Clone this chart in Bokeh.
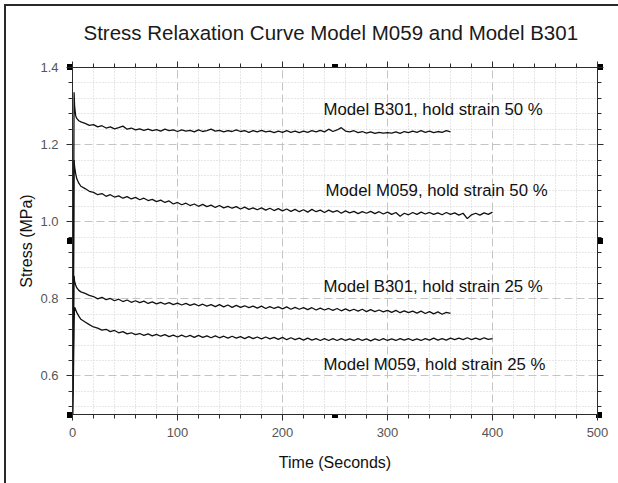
from bokeh.plotting import figure
from bokeh.models import (LinearAxis, FixedTicker, PrintfTickFormatter, Label, Range1d)
from bokeh.embed import file_html
from bokeh.resources import INLINE

# ---------------- data ----------------
t_early = [0, 1, 1.5, 2, 3, 4, 6, 8]
t_b301 = t_early + list(range(12, 364, 4))
t_m059 = t_early + list(range(12, 404, 4))

b301_50 = [0.50, 0.92, 1.336, 1.300, 1.275, 1.268, 1.262, 1.259,
           1.255, 1.250, 1.252, 1.246, 1.249, 1.243, 1.246, 1.241, 1.244, 1.248,
           1.240, 1.243, 1.238, 1.241, 1.237, 1.240, 1.236, 1.239, 1.235, 1.240,
           1.236, 1.238, 1.234, 1.238, 1.235, 1.237, 1.233, 1.238, 1.234, 1.236,
           1.240, 1.235, 1.237, 1.233, 1.236, 1.234, 1.238, 1.234, 1.236, 1.232,
           1.236, 1.233, 1.237, 1.233, 1.235, 1.231, 1.235, 1.232, 1.236, 1.232,
           1.235, 1.231, 1.235, 1.232, 1.236, 1.233, 1.237, 1.233, 1.240, 1.234,
           1.238, 1.244, 1.235, 1.233, 1.236, 1.231, 1.234, 1.230, 1.233, 1.229,
           1.232, 1.230, 1.231, 1.230, 1.233, 1.229, 1.234, 1.231, 1.235, 1.232,
           1.236, 1.232, 1.235, 1.231, 1.234, 1.232, 1.236, 1.233]

m059_50 = [0.50, 0.85, 1.160, 1.142, 1.125, 1.112, 1.100, 1.092,
           1.086, 1.079, 1.076, 1.070, 1.073, 1.066, 1.070, 1.064, 1.067, 1.061,
           1.065, 1.059, 1.063, 1.057, 1.061, 1.055, 1.058, 1.052, 1.056, 1.050,
           1.054, 1.046, 1.050, 1.044, 1.048, 1.042, 1.046, 1.040, 1.045, 1.039,
           1.043, 1.037, 1.042, 1.036, 1.040, 1.035, 1.039, 1.033, 1.038, 1.032,
           1.036, 1.031, 1.036, 1.030, 1.035, 1.029, 1.034, 1.028, 1.033, 1.027,
           1.032, 1.026, 1.031, 1.025, 1.032, 1.026, 1.030, 1.024, 1.030, 1.025,
           1.029, 1.022, 1.028, 1.023, 1.027, 1.021, 1.026, 1.022, 1.027, 1.021,
           1.026, 1.020, 1.025, 1.019, 1.024, 1.014, 1.022, 1.018, 1.024, 1.019,
           1.025, 1.020, 1.024, 1.019, 1.023, 1.018, 1.024, 1.019, 1.023, 1.017,
           1.022, 1.008, 1.018, 1.022, 1.017, 1.023, 1.019, 1.025]

b301_25 = [0.50, 0.70, 0.860, 0.845, 0.836, 0.829, 0.822, 0.818,
           0.814, 0.809, 0.806, 0.800, 0.804, 0.798, 0.801, 0.795, 0.799, 0.793,
           0.797, 0.791, 0.795, 0.790, 0.794, 0.788, 0.792, 0.787, 0.791, 0.786,
           0.790, 0.785, 0.789, 0.784, 0.788, 0.783, 0.787, 0.782, 0.786, 0.781,
           0.785, 0.780, 0.785, 0.779, 0.784, 0.778, 0.783, 0.778, 0.782, 0.777,
           0.781, 0.776, 0.781, 0.775, 0.780, 0.775, 0.779, 0.774, 0.779, 0.773,
           0.778, 0.773, 0.777, 0.772, 0.777, 0.771, 0.776, 0.771, 0.775, 0.770,
           0.775, 0.769, 0.774, 0.769, 0.773, 0.768, 0.773, 0.767, 0.772, 0.767,
           0.771, 0.766, 0.770, 0.765, 0.770, 0.764, 0.769, 0.764, 0.768, 0.763,
           0.768, 0.762, 0.767, 0.761, 0.766, 0.760, 0.765, 0.762]

m059_25 = [0.50, 0.62, 0.740, 0.778, 0.772, 0.765, 0.755, 0.747,
           0.740, 0.733, 0.727, 0.724, 0.719, 0.721, 0.715, 0.718, 0.712, 0.715,
           0.709, 0.712, 0.707, 0.710, 0.705, 0.709, 0.704, 0.708, 0.703, 0.707,
           0.702, 0.706, 0.701, 0.706, 0.701, 0.705, 0.700, 0.705, 0.700, 0.704,
           0.699, 0.704, 0.699, 0.703, 0.698, 0.703, 0.698, 0.702, 0.697, 0.702,
           0.697, 0.701, 0.696, 0.701, 0.696, 0.700, 0.695, 0.700, 0.694, 0.699,
           0.694, 0.698, 0.693, 0.698, 0.693, 0.697, 0.692, 0.697, 0.692, 0.697,
           0.692, 0.697, 0.692, 0.696, 0.692, 0.697, 0.692, 0.696, 0.691, 0.696,
           0.692, 0.697, 0.692, 0.696, 0.692, 0.697, 0.693, 0.697, 0.692, 0.696,
           0.692, 0.697, 0.693, 0.698, 0.693, 0.697, 0.693, 0.698, 0.694, 0.698,
           0.694, 0.699, 0.694, 0.698, 0.694, 0.699, 0.695, 0.697]

series = [(t_b301, b301_50), (t_m059, m059_50), (t_b301, b301_25), (t_m059, m059_25)]

labels = ["Model B301, hold strain 50 %", "Model M059, hold strain 50 %",
          "Model B301, hold strain 25 %", "Model M059, hold strain 25 %"]
label_x = [239, 241, 239, 239]
label_y = [1.292, 1.082, 0.833, 0.630]

x_major = [0, 100, 200, 300, 400, 500]
y_major = [0.6, 0.8, 1.0, 1.2, 1.4]

title_text = "Stress Relaxation Curve Model M059 and Model B301"
x_title = "Time (Seconds)"
y_title = "Stress (MPa)"

# ---------------- figure ----------------
FONT = "Liberation Sans"
p = figure(width=618, height=483, output_backend="svg", toolbar_location=None,
           x_range=Range1d(0, 500), y_range=Range1d(0.5, 1.4),
           min_border_left=72, min_border_right=21, min_border_top=67,
           min_border_bottom=69)
p.border_fill_color = None
p.background_fill_color = "white"
p.outline_line_color = None

# outer window edge (left/top) and the small black selection handles around the frame
handle_pos = [(67, 64), (332, 64), (597, 64), (67, 238), (597, 238),
              (67, 412), (332, 412), (596, 412)]
sq = ", ".join(f"linear-gradient(#000,#000) {hx}px {hy}px / 6px 6px no-repeat"
               for hx, hy in handle_pos)
p.styles = {"background": sq + ", #ffffff",
            "box-shadow": "inset 4px 4px 0 0 #ffffff, inset 6px 6px 0 0 #2a2a2a"}

p.title.text = title_text
p.title.align = "left"
p.title.text_font = FONT
p.title.text_font_size = "20.5px"
p.title.text_font_style = "normal"
p.title.text_color = "#1a1a1a"
p.title.standoff = 35
p.title.offset = 11

x_minor = [v for v in range(0, 501, 20) if v % 100 != 0]
y_minor = [0.52, 0.56, 0.64, 0.68, 0.72, 0.76, 0.84, 0.88, 0.92, 0.96,
           1.04, 1.08, 1.12, 1.16, 1.24, 1.28, 1.32, 1.36]

AX = "#2b2b2b"

def style_axis(ax, labels_on=True):
    ax.axis_line_color = AX
    ax.axis_line_width = 1
    ax.major_tick_line_color = AX
    ax.minor_tick_line_color = AX
    ax.major_tick_in = 0
    ax.major_tick_out = 6
    ax.minor_tick_in = 0
    ax.minor_tick_out = 4
    ax.major_label_text_font = FONT
    ax.major_label_text_font_size = "13px"
    ax.major_label_text_color = "#555555"
    ax.axis_label_text_font = FONT
    ax.axis_label_text_font_size = "16px"
    ax.axis_label_text_font_style = "normal"
    ax.axis_label_text_color = "#111111"
    if not labels_on:
        ax.major_label_text_color = None
        ax.major_label_standoff = 0

xa = p.xaxis[0]
ya = p.yaxis[0]
xa.ticker = FixedTicker(ticks=x_major, minor_ticks=x_minor)
ya.ticker = FixedTicker(ticks=y_major, minor_ticks=y_minor)
xa.formatter = PrintfTickFormatter(format="%d")
ya.formatter = PrintfTickFormatter(format="%.1f")
style_axis(xa)
style_axis(ya)
xa.axis_label = x_title
ya.axis_label = y_title
xa.major_label_standoff = 7
xa.axis_label_standoff = 14
ya.major_label_standoff = 8
ya.axis_label_standoff = 2

top = LinearAxis(ticker=FixedTicker(ticks=x_major, minor_ticks=x_minor))
right = LinearAxis(ticker=FixedTicker(ticks=y_major, minor_ticks=y_minor))
style_axis(top, labels_on=False)
style_axis(right, labels_on=False)
p.add_layout(top, "above")
p.add_layout(right, "right")

for g in (p.xgrid[0], p.ygrid[0]):
    g.grid_line_color = "#c4c4c4"
    g.grid_line_dash = "8 4"
    g.grid_line_width = 1
    g.minor_grid_line_color = "#cfcfcf"
    g.minor_grid_line_dash = "1 2"
    g.minor_grid_line_width = 1

for tx, vy in series:
    p.line(tx, vy, line_color="#111111", line_width=1.3)

for txt, lx, ly in zip(labels, label_x, label_y):
    p.add_layout(Label(x=lx, y=ly, text=txt, text_font=FONT, text_font_size="16.8px",
                       text_color="#111111", text_baseline="middle", text_align="left"))

open("out.html", "w").write(file_html(p, INLINE))
